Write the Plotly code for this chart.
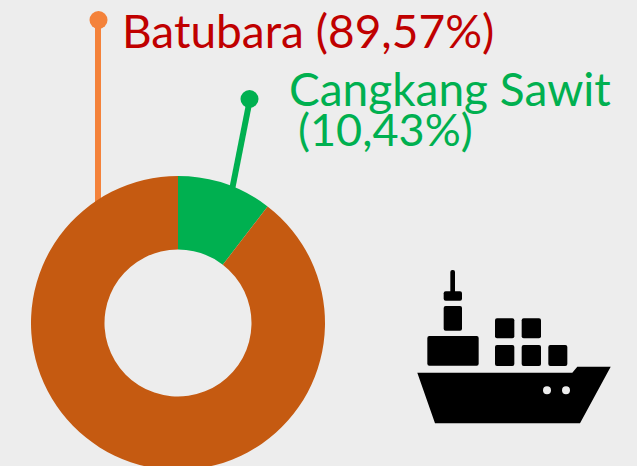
import plotly.graph_objects as go

# ---- data ----
labels = ["Cangkang Sawit", "Batubara"]
values = [10.43, 89.57]
colors = ["#00B050", "#C55A11"]
label_texts = ["Batubara (89,57%)", "Cangkang Sawit", "(10,43%)"]

W, H = 637, 480  # taller than the window: the donut runs off the bottom edge
BG = "#EDEDED"
cx, cy, r = 178, 323, 147

fig = go.Figure()
fig.add_trace(go.Pie(
    labels=labels, values=values, hole=0.5, sort=False, direction="clockwise", rotation=0,
    marker=dict(colors=colors, line=dict(width=0)), textinfo="none", hoverinfo="label+percent",
    showlegend=False,
    domain=dict(x=[(cx - r) / W, (cx + r) / W], y=[1 - (cy + r) / H, 1 - (cy - r) / H]),
))

# invisible pixel-scaled axes for the decoration
fig.add_trace(go.Scatter(x=[0], y=[0], mode="markers", marker=dict(opacity=0), hoverinfo="skip", showlegend=False))
shapes = []

def line(x0, y0, x1, y1, c, w):
    shapes.append(dict(type="line", x0=x0, y0=y0, x1=x1, y1=y1, line=dict(color=c, width=w), layer="below"))

def dot(x, y, rad, c, layer="above"):
    shapes.append(dict(type="circle", x0=x - rad, x1=x + rad, y0=y - rad, y1=y + rad,
                       fillcolor=c, line=dict(width=0), layer=layer))

line(98, 20, 98, 205, "#F4823A", 6)
dot(98.5, 20, 9, "#F4823A")
line(250, 99, 231, 195, "#00B050", 6)
dot(249.5, 99, 9, "#00B050")

# ship icon
def z(px, py):
    return 400 + px / 3, 250 + py / 3

def rrect(x0, y0, x1, y1, rad=2):
    (a, b), (c, d) = z(x0, y0), z(x1, y1)
    p = (f"M{a+rad},{b} L{c-rad},{b} Q{c},{b} {c},{b+rad} L{c},{d-rad} Q{c},{d} {c-rad},{d} "
         f"L{a+rad},{d} Q{a},{d} {a},{d-rad} L{a},{b+rad} Q{a},{b} {a+rad},{b} Z")
    shapes.append(dict(type="path", path=p, fillcolor="black", line=dict(width=0)))

for box in [(285, 205, 343, 265), (365, 205, 423, 265), (285, 285, 343, 348), (365, 285, 423, 348),
            (445, 285, 502, 348), (82, 258, 236, 347), (131, 168, 186, 242), (131, 124, 186, 152),
            (151, 60, 165, 130)]:
    rrect(*box)
hull = [(52, 368), (517, 368), (532, 350), (632, 350), (540, 520), (105, 520)]
shapes.append(dict(type="path", fillcolor="black", line=dict(width=0),
                   path="M" + " L".join("%.1f,%.1f" % z(*p) for p in hull) + " Z"))
for px in (441, 498):
    x, y = z(px, 421)
    dot(x, y, 4, BG)

def label(text, x, y, c, size=46):
    return dict(text=text, x=x, y=y, xref="x", yref="y", xanchor="left", yanchor="middle", showarrow=False,
                font=dict(family="Lato", size=size, color=c))

fig.update_layout(
    width=W, height=H, autosize=False, margin=dict(l=0, r=0, t=0, b=0),
    paper_bgcolor=BG, plot_bgcolor=BG,
    xaxis=dict(visible=False, range=[0, W], domain=[0, 1]),
    yaxis=dict(visible=False, range=[H, 0], domain=[0, 1]),
    shapes=shapes,
    annotations=[label(label_texts[0], 120, 30, "#C00000"),
                 label(label_texts[1], 287, 88, "#00B050"),
                 label(label_texts[2], 296, 129, "#00B050", 45)],
)
fig.write_html("out.html", config=dict(displayModeBar=False),
               post_script="document.documentElement.style.overflow='hidden';document.body.style.overflow='hidden';document.body.style.margin='0';")
